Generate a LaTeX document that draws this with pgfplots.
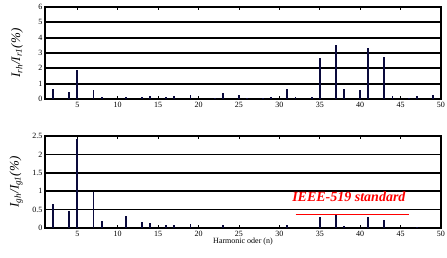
\documentclass[border=0pt]{standalone}
\usepackage{pgfplots}
\pgfplotsset{compat=1.18}
\usepackage{fontspec}
\setmainfont{Liberation Serif}
\definecolor{barnavy}{RGB}{10,10,60}
\begin{document}
\begin{tikzpicture}
\path[use as bounding box] (0pt,0pt) rectangle (447pt,-257pt);
\pgfplotsset{
  hstyle/.style={
    scale only axis, width=396pt, height=92pt,
    xmin=1, xmax=50, xtick={5,10,...,50},
    xtick pos=both, ytick pos=left, tick align=inside,
    major tick length=3pt,
    every tick/.style={black, line width=0.8pt},
    ymajorgrids, major grid style={black, line width=1.7pt},
    axis line style={line width=1.2pt},
    tick label style={font=\fontsize{8}{9}\selectfont},
    /pgf/number format/assume math mode=true,
    xticklabel shift=0pt, yticklabel style={xshift=1pt},
    clip=false,
  },
  comb/.style={ycomb, draw=barnavy, line width=1.9pt, mark=none},
}
% top axis
\begin{axis}[hstyle, at={(45pt,-7pt)}, anchor=north west,
  ymin=0, ymax=6, ytick={0,1,...,6},
  ylabel={\itshape I\textsubscript{rh}/I\textsubscript{r1}(\%)},
  ylabel style={font=\fontsize{13}{14}\selectfont, at={(axis description cs:-0.047,0.5)}}]
\addplot[comb] coordinates {
(2,0.64)(4,0.43)(5,1.88)(7,0.60)(8,0.13)(11,0.15)(13,0.15)(14,0.19)(16,0.10)(17,0.19)
(19,0.28)(22,0.08)(23,0.36)(25,0.26)(26,0.05)(28,0.08)(29,0.13)(31,0.62)(32,0.13)(34,0.15)
(35,2.66)(37,3.55)(38,0.62)(40,0.60)(41,3.30)(43,2.76)(44,0.19)(46,0.06)(47,0.19)(49,0.28)};
\end{axis}
% bottom axis
\begin{axis}[hstyle, at={(45pt,-136pt)}, anchor=north west,
  ymin=0, ymax=2.5, ytick={0,0.5,...,2.5},
  yticklabel style={/pgf/number format/fixed, /pgf/number format/precision=1},
  ylabel={\itshape I\textsubscript{gh}/I\textsubscript{g1}(\%)},
  ylabel style={font=\fontsize{13}{14}\selectfont, at={(axis description cs:-0.047,0.5)}},
  xlabel={Harmonic oder (n)},
  xlabel style={font=\fontsize{8}{9}\selectfont, yshift=6pt}]
\addplot[comb] coordinates {
(2,0.65)(4,0.46)(5,2.41)(7,0.99)(8,0.19)(11,0.33)(13,0.16)(14,0.14)(16,0.07)(17,0.08)
(19,0.10)(23,0.08)(31,0.07)(35,0.31)(37,0.38)(38,0.05)(41,0.30)(43,0.23)(47,0.03)};
\addplot[red, line width=0.8pt, mark=none] coordinates {(32,0.36)(46,0.36)};
\node[text=red, font=\fontsize{14}{15}\selectfont\bfseries\itshape] at (axis cs:38.6,0.84) {IEEE-519 standard};
\end{axis}
\end{tikzpicture}
\end{document}
